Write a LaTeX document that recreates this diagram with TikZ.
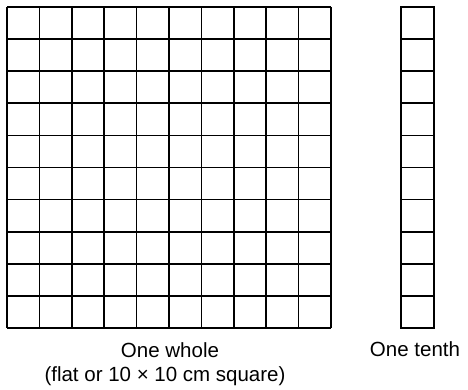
\documentclass[tikz,border=0pt]{standalone}
\usepackage{fontspec}
\setmainfont{Liberation Sans}
\begin{document}
\begin{tikzpicture}[x=1pt,y=-1pt]
% Styles
\tikzstyle{trait}=[line width=1.6pt,black]
\tikzstyle{legende}=[font=\fontsize{20.5}{24}\selectfont,inner sep=0pt]
% Dimensions
\def\GaucheCarre{7}
\def\DroiteCarre{331}
\def\HautCarre{7}
\def\BasCarre{328}
\def\GaucheBande{401}
\def\DroiteBande{434}
\useasboundingbox (0,0) rectangle (468,390);
% Carre de 10 x 10
\foreach \i in {0,...,10}{
  \draw[trait] ({\GaucheCarre+\i*(\DroiteCarre-\GaucheCarre)/10},\HautCarre)--({\GaucheCarre+\i*(\DroiteCarre-\GaucheCarre)/10},\BasCarre);
  \draw[trait] (\GaucheCarre,{\HautCarre+\i*(\BasCarre-\HautCarre)/10})--(\DroiteCarre,{\HautCarre+\i*(\BasCarre-\HautCarre)/10});
}
% Bande de 10
\draw[trait] (\GaucheBande,\HautCarre) rectangle (\DroiteBande,\BasCarre);
\foreach \i in {1,...,9}{
  \draw[trait] (\GaucheBande,{\HautCarre+\i*(\BasCarre-\HautCarre)/10})--(\DroiteBande,{\HautCarre+\i*(\BasCarre-\HautCarre)/10});
}
% Legendes
\node[legende] (unite) at (170,350) {One whole};
\node[legende] (detail) at (165,376) {(flat or 10 × 10 cm square)};
\node[legende] (dixieme) at (415,349) {One tenth};
\end{tikzpicture}
\end{document}
